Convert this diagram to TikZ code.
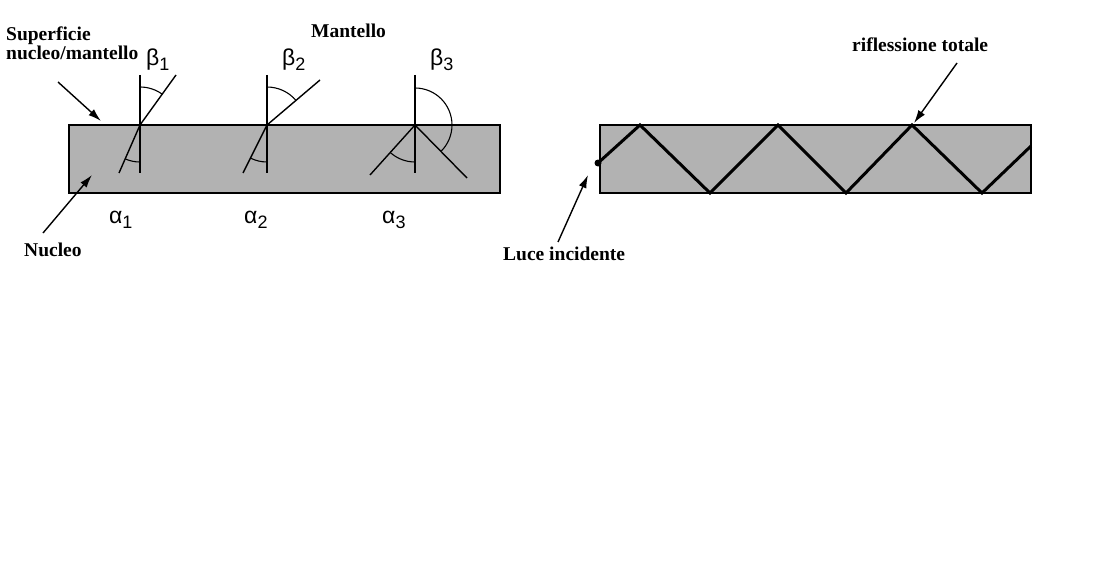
\documentclass[tikz,border=0pt]{standalone}
\usepackage{fontspec}
\setmainfont{Liberation Serif}
\newfontfamily\gfont{Liberation Sans}
\usetikzlibrary{arrows.meta,calc}
\begin{document}
\begin{tikzpicture}[x=1pt,y=-1pt,
  core/.style={fill=black!30, draw=black, line width=2pt},
  thinray/.style={line width=1.4pt, line cap=butt},
  anglearc/.style={line width=1.1pt},
  lab/.style={font=\bfseries\fontsize{19.5}{19.5}\selectfont, inner sep=0pt, anchor=base west},
  greek/.style={font=\gfont\fontsize{23}{23}\selectfont, inner sep=0pt, anchor=base west},
  ptr/.style={-{Latex[length=13pt,width=8pt]}, line width=1.4pt},
  zig/.style={line width=3pt, line join=miter}]
\useasboundingbox (0,0) rectangle (1110,567);
\fill[white] (0,0) rectangle (1110,567);

% fibres
\draw[core] (69,125) rectangle (500,193);
\draw[core] (600,125) rectangle (1031,193);

% --- incidence point 1
\coordinate (P1) at (140,125);
\coordinate (N1t) at (140,75);
\coordinate (N1b) at (140,173);
\coordinate (R1u) at (176,75);
\coordinate (R1d) at (119,173);
\draw[thinray] (N1t) -- (N1b);
\draw[thinray] (R1d) -- (P1) -- (R1u);
\draw[anglearc] ($(P1)+(0,-38)$) arc[start angle=-90, end angle=-54, radius=38];
\draw[anglearc] ($(P1)+(0,37)$) arc[start angle=90, end angle=113, radius=37];

% --- incidence point 2
\coordinate (P2) at (267,125);
\coordinate (N2t) at (267,75);
\coordinate (N2b) at (267,173);
\coordinate (R2u) at (320,80);
\coordinate (R2d) at (243,173);
\draw[thinray] (N2t) -- (N2b);
\draw[thinray] (R2d) -- (P2) -- (R2u);
\draw[anglearc] ($(P2)+(0,-38)$) arc[start angle=-90, end angle=-40, radius=38];
\draw[anglearc] ($(P2)+(0,37)$) arc[start angle=90, end angle=116.6, radius=37];

% --- incidence point 3
\coordinate (P3) at (415,125);
\coordinate (N3t) at (415,75);
\coordinate (N3b) at (415,173);
\coordinate (R3l) at (370,175);
\coordinate (R3r) at (467,178);
\draw[thinray] (N3t) -- (N3b);
\draw[thinray] (R3l) -- (P3) -- (R3r);
\draw[anglearc] ($(P3)+(0,-37)$) arc[start angle=-90, end angle=45, radius=37];
\draw[anglearc] ($(P3)+(0,37)$) arc[start angle=90, end angle=132, radius=37];

% Greek labels
\node[greek] (b1) at (146,66) {β\raisebox{-5pt}{\fontsize{18}{18}\selectfont 1}};
\node[greek] (b2) at (282,66) {β\raisebox{-5pt}{\fontsize{18}{18}\selectfont 2}};
\node[greek] (b3) at (430,66) {β\raisebox{-5pt}{\fontsize{18}{18}\selectfont 3}};
\node[greek] (a1) at (109,223) {α\raisebox{-5pt}{\fontsize{18}{18}\selectfont 1}};
\node[greek] (a2) at (244,223) {α\raisebox{-5pt}{\fontsize{18}{18}\selectfont 2}};
\node[greek] (a3) at (382,223) {α\raisebox{-5pt}{\fontsize{18}{18}\selectfont 3}};

% text labels
\node[lab] (sup) at (6,41) {Superficie};
\node[lab] (num) at (6,60) {nucleo/mantello};
\node[lab] (man) at (311,38) {Mantello};
\node[lab] (nuc) at (24,256) {Nucleo};
\node[lab] (luce) at (503,260) {Luce incidente};
\node[lab] (rifl) at (852,52) {riflessione totale};

% pointers
\coordinate (s1) at (58,82);  \coordinate (s2) at (101,121);
\coordinate (n1) at (43,233); \coordinate (n2) at (92,175);
\coordinate (l1) at (558,242); \coordinate (l2) at (588,175);
\coordinate (r1) at (957,63); \coordinate (r2) at (914,123);
\draw[ptr] (s1) -- (s2);
\draw[ptr] (n1) -- (n2);
\draw[ptr] (l1) -- (l2);
\draw[ptr] (r1) -- (r2);

% zigzag ray
\coordinate (z0) at (598,163);
\coordinate (z1) at (640,125);
\coordinate (z2) at (710,193);
\coordinate (z3) at (778,125);
\coordinate (z4) at (846,193);
\coordinate (z5) at (912,125);
\coordinate (z6) at (982,193);
\coordinate (z7) at (1031,146);
\draw[zig] (z0) -- (z1) -- (z2) -- (z3) -- (z4) -- (z5) -- (z6) -- (z7);
\fill (z0) circle (3.5pt);
\end{tikzpicture}
\end{document}
